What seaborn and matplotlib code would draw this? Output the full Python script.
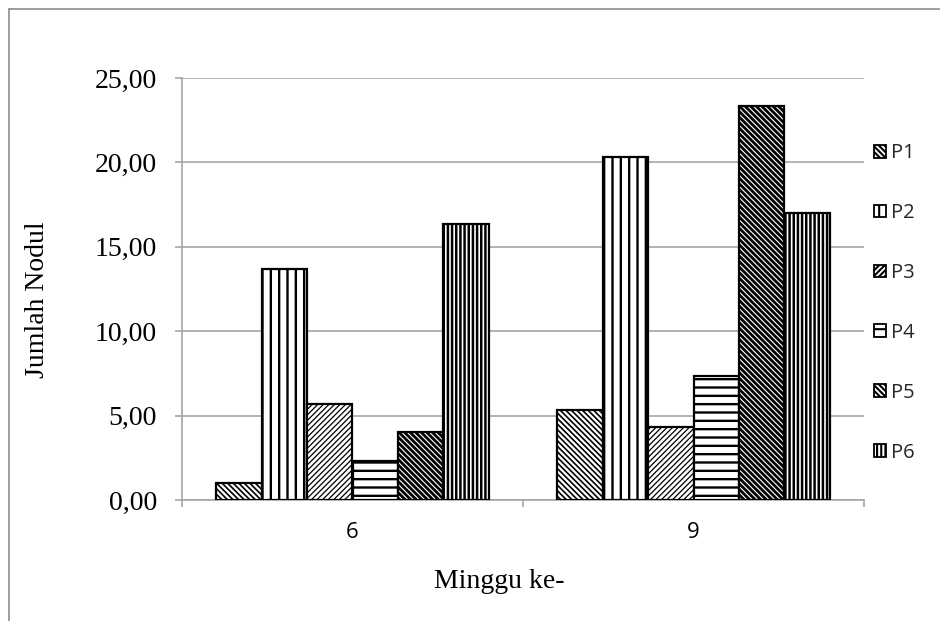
import matplotlib
matplotlib.use("Agg")
import matplotlib.pyplot as plt
from matplotlib.patches import Patch
from matplotlib.lines import Line2D
from matplotlib.ticker import FixedLocator, FuncFormatter
import seaborn as sns
import pandas as pd

# Nodule counts per treatment at week 6 and week 9
weeks = ["6", "9"]
treatments = ["P1", "P2", "P3", "P4", "P5", "P6"]
p1 = [1.00, 5.33]
p2 = [13.67, 20.33]
p3 = [5.67, 4.33]
p4 = [2.33, 7.33]
p5 = [4.00, 23.33]
p6 = [16.33, 17.00]
y_ticks = [0, 5, 10, 15, 20, 25]

series = dict(zip(treatments, [p1, p2, p3, p4, p5, p6]))
df = pd.DataFrame(
    [(w, t, series[t][i]) for i, w in enumerate(weeks) for t in treatments],
    columns=["minggu", "perlakuan", "nodul"],
)

hatches = {"P1": "\\" * 6, "P2": "||", "P3": "/" * 6, "P4": "--",
           "P5": "\\" * 6, "P6": "||||"}
hatch_lw = {"P1": 1.2, "P2": 1.7, "P3": 0.9, "P4": 1.7, "P5": 2.0, "P6": 1.8}

sns.set_theme(style="white")
plt.rcParams["hatch.color"] = "black"
plt.rcParams["hatch.linewidth"] = 1.5

fig = plt.figure(figsize=(9.40, 6.21), dpi=100)
ax = fig.add_axes([182 / 940, 1 - 500 / 621, 682 / 940, 422 / 621])

sns.barplot(data=df, x="minggu", y="nodul", hue="perlakuan", order=weeks,
            hue_order=treatments, width=0.8, ax=ax, legend=False,
            palette=["white"] * 6, saturation=1)

for name, cont in zip(treatments, ax.containers):
    for bar in cont:
        bar.set_facecolor("white")
        bar.set_edgecolor("black")
        bar.set_linewidth(1.6)
        bar.set_hatch(hatches[name])
        if hasattr(bar, "set_hatch_linewidth"):
            bar.set_hatch_linewidth(hatch_lw[name])
        bar.set_zorder(3)

grid_gray = "#a6a6a6"
ax.set_ylim(0, 25)
ax.set_xlim(-0.5, 1.5)
ax.yaxis.set_major_locator(FixedLocator(y_ticks))
ax.yaxis.set_major_formatter(FuncFormatter(lambda v, p: f"{v:.2f}".replace(".", ",")))
ax.grid(axis="y", color=grid_gray, linewidth=1.2, zorder=0)
ax.set_axisbelow(True)

for side in ["top", "right"]:
    ax.spines[side].set_visible(False)
for side in ["left", "bottom"]:
    ax.spines[side].set_color(grid_gray)
    ax.spines[side].set_linewidth(1.2)

serif = ["Liberation Serif", "DejaVu Serif"]
sans = ["Open Sans", "DejaVu Sans"]

ax.tick_params(axis="y", which="major", left=True, length=5, width=1.2,
               color=grid_gray, pad=13, labelsize=20)
for lbl in ax.get_yticklabels():
    lbl.set_fontfamily(serif)
    lbl.set_color("black")

# category boundary ticks on the x axis
ax.xaxis.set_minor_locator(FixedLocator([-0.5, 0.5, 1.5]))
ax.tick_params(axis="x", which="minor", bottom=True, length=5, width=1.2,
               color=grid_gray)
ax.tick_params(axis="x", which="major", bottom=False, length=0, pad=16)
for lbl in ax.get_xticklabels():
    lbl.set_fontfamily(sans)
    lbl.set_fontsize(16)
    lbl.set_color("black")

ax.set_ylabel("Jumlah Nodul", fontsize=20, family=serif, color="black",
              va="center")
ax.yaxis.set_label_coords(-0.212, 0.474)
ax.set_xlabel("Minggu ke-", fontsize=20, family=serif, color="black",
              va="baseline")
ax.xaxis.set_label_coords(0.465, -0.2085)

handles = [Patch(facecolor="white", edgecolor="black", linewidth=1.3,
                 hatch=hatches[t], label=t) for t in treatments]
fig.legend(handles=handles, loc="center left",
           bbox_to_anchor=(874 / 940, 1 - 303 / 621), frameon=False,
           prop={"family": sans, "size": 14.5}, labelspacing=1.98,
           handlelength=0.6, handleheight=0.6, handletextpad=0.25,
           borderpad=0, borderaxespad=0)

# outer chart frame
fig.add_artist(Line2D([8.5 / 940, 1.0], [1 - 9 / 621, 1 - 9 / 621],
                      transform=fig.transFigure, color="#8c8c8c", linewidth=1.2))
fig.add_artist(Line2D([8.5 / 940, 8.5 / 940], [0.0, 1 - 9 / 621],
                      transform=fig.transFigure, color="#8c8c8c", linewidth=1.2))

fig.savefig("out.png", dpi=100, facecolor="white")
